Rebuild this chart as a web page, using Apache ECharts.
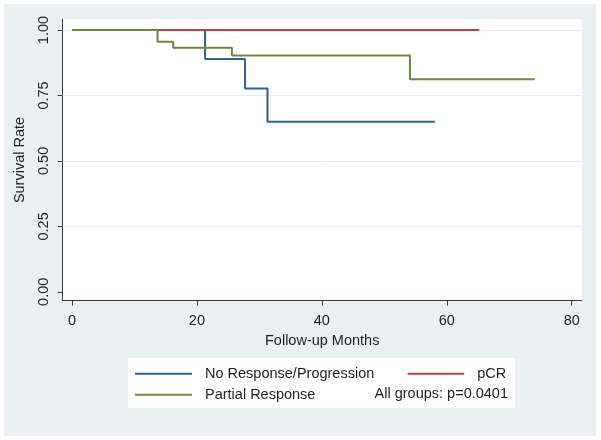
<!DOCTYPE html>
<html>
<head>
<meta charset="utf-8">
<script src="https://cdn.jsdelivr.net/npm/echarts@6/dist/echarts.min.js"></script>
<style>
html,body{margin:0;padding:0;background:#ffffff;}
#chart{width:601px;height:440px;}
</style>
</head>
<body>
<div id="chart"></div>
<script>
// ---- data (Kaplan-Meier step points: month, survival) ----
const noRespMonths   = [0, 21.3, 27.7, 31.3, 58.1];
const noRespSurv     = [1.00, 0.889, 0.777, 0.650, 0.650];
const pcrMonths      = [0, 65.2];
const pcrSurv        = [1.00, 1.00];
const partialMonths  = [0, 13.7, 16.2, 25.6, 54.1, 74.1];
const partialSurv    = [1.00, 0.955, 0.932, 0.903, 0.812, 0.812];
const xTicks = [0, 20, 40, 60, 80];
const yTicks = [0, 0.25, 0.5, 0.75, 1];
const seriesNames = ['No Response/Progression', 'pCR', 'Partial Response'];
const pText = 'All groups: p=0.0401';

function pairs(xs, ys) { return xs.map((x, i) => [x, ys[i]]); }

const FONT = 'Liberation Sans, Arial, sans-serif';
const FS = 14.5;
const TXT = '#1e1e1e';
const LINE_ICON = 'path://M0,0L57,0L57,2L0,2Z';

const chart = echarts.init(document.getElementById('chart'), null, {renderer: 'canvas'});
chart.setOption({
  animation: false,
  backgroundColor: '#ffffff',
  graphic: [
    { type: 'rect', left: 4, top: 4, shape: { width: 592, height: 432 }, style: { fill: '#e8f0f2' }, z: -10 },
    { type: 'rect', left: 128, top: 358, shape: { width: 387, height: 50 }, style: { fill: '#ffffff' }, z: -5 },
    { type: 'text', right: 601 - 508, top: 386, style: { text: pText, fill: TXT, font: FS + 'px ' + FONT } }
  ],
  grid: {
    left: 62.7, right: 19.3, top: 19.3, bottom: 139.3,
    show: true, backgroundColor: '#ffffff', borderWidth: 0
  },
  xAxis: {
    type: 'value', min: -1.49, max: 81.6,
    name: 'Follow-up Months', nameLocation: 'middle', nameGap: 29,
    nameTextStyle: { color: TXT, fontSize: FS, fontFamily: FONT },
    axisLine: { show: true, onZero: false, lineStyle: { color: '#3a3a3a', width: 1 } },
    axisTick: { show: true, length: 5, customValues: xTicks, lineStyle: { color: '#3a3a3a' } },
    axisLabel: { customValues: xTicks, margin: 12.5, color: TXT, fontSize: FS, fontFamily: FONT },
    splitLine: { show: false }
  },
  yAxis: {
    type: 'value', min: -0.034, max: 1.041,
    name: 'Survival Rate', nameLocation: 'middle', nameGap: 35, nameRotate: 90,
    nameTextStyle: { color: TXT, fontSize: FS, fontFamily: FONT },
    axisLine: { show: true, onZero: false, lineStyle: { color: '#3a3a3a', width: 1 } },
    axisTick: { show: true, length: 5, customValues: yTicks, lineStyle: { color: '#3a3a3a' } },
    axisLabel: { customValues: yTicks, rotate: 90, margin: 11.5, color: TXT, fontSize: FS, fontFamily: FONT,
                 formatter: v => v.toFixed(2) },
    splitLine: { show: false }
  },
  legend: [
    {
      data: [seriesNames[0], seriesNames[2]], orient: 'vertical', left: 135, top: 366.3,
      icon: LINE_ICON, itemWidth: 57, itemHeight: 14, itemGap: 6, padding: 0,
      textStyle: { color: TXT, fontSize: FS, fontFamily: FONT, padding: [0, 0, 0, 8] }
    },
    {
      data: [seriesNames[1]], orient: 'vertical', left: 407.7, top: 366.3,
      icon: LINE_ICON, itemWidth: 56.5, itemHeight: 14, padding: 0,
      textStyle: { color: TXT, fontSize: FS, fontFamily: FONT, padding: [0, 0, 0, 8] }
    }
  ],
  series: [
    { name: seriesNames[0], type: 'line', step: 'end', symbol: 'none', z: 2,
      data: pairs(noRespMonths, noRespSurv), color: '#31618f', lineStyle: { width: 2 },
      markLine: { silent: true, symbol: 'none', label: { show: false }, z: 1,
        lineStyle: { color: '#e4eef0', width: 1, type: 'solid' },
        data: yTicks.filter(v => v > 0).map(v => ({ yAxis: v })) } },
    { name: seriesNames[1], type: 'line', step: 'end', symbol: 'none', z: 3,
      data: pairs(pcrMonths, pcrSurv), color: '#b2434f', lineStyle: { width: 2 } },
    { name: seriesNames[2], type: 'line', step: 'end', symbol: 'none', z: 4,
      data: pairs(partialMonths, partialSurv), color: '#6b8a3c', lineStyle: { width: 2 } }
  ]
});
</script>
</body>
</html>
